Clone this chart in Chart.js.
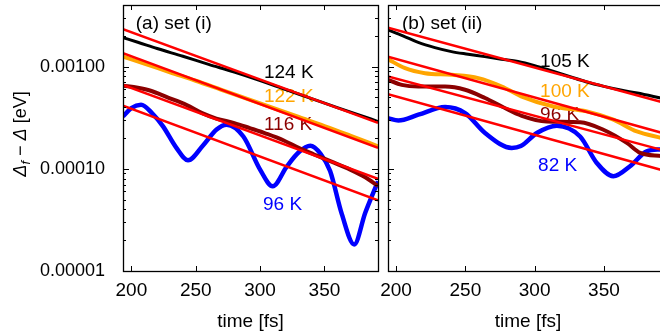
<!DOCTYPE html>
<html>
<head>
<meta charset="utf-8">
<script src="https://cdn.jsdelivr.net/npm/chart.js@4.4.0/dist/chart.umd.min.js"></script>
<style>
html, body { margin: 0; padding: 0; background: #fff; overflow: hidden; }
#wrap { position: relative; width: 660px; height: 335px; overflow: hidden; }
#chartA { position: absolute; left: 0; top: 0; }
#chartB { position: absolute; left: 360px; top: 0; }
</style>
</head>
<body>
<div id="wrap">
  <canvas id="chartA" width="383" height="335"></canvas>
  <canvas id="chartB" width="313" height="335"></canvas>
</div>
<script>
// ---- data, panel (a) set (i) ----
const tA124 = [193.5, 205, 220, 240, 260, 280, 300, 320, 340, 360, 375, 391.6];
const vA124 = [0.00192, 0.00173, 0.00150, 0.00126, 0.00105, 0.000881, 0.000728, 0.000594, 0.000486, 0.000397, 0.000343, 0.000290];
const tA122 = [193.5, 210, 230, 250, 270, 290, 310, 330, 350, 370, 391.6];
const vA122 = [0.00125, 0.00107, 0.000879, 0.000726, 0.000592, 0.000483, 0.000394, 0.000321, 0.000262, 0.000211, 0.000166];
const tA116 = [193.5, 205, 215, 228, 243, 255, 266, 280, 292, 305, 318, 330, 342, 355, 370, 382, 391.6];
const vA116 = [0.00065, 0.00062, 0.00058, 0.00050, 0.00042, 0.00035, 0.00031, 0.00028, 0.00025, 0.00022, 0.00019, 0.00016, 0.000138, 0.000118, 0.0000982, 0.000082, 0.000068];
const tA96 = [193.5, 200, 207.5, 216, 224.6, 235, 244, 255.8, 266.2, 274, 287, 300, 309.8, 320.7, 330, 339, 347, 354.4, 363.5, 373.1, 381.7, 391.6];
const vA96 = [0.000325, 0.000393, 0.000423, 0.000351, 0.00026, 0.00016, 0.000121, 0.00017, 0.000242, 0.00027, 0.000207, 0.0000982, 0.0000675, 0.000105, 0.000145, 0.000168, 0.00014, 0.000095, 0.000036, 0.0000182, 0.0000372, 0.0000755];
// exponential fits (straight on the log axis): start / end value
const tFitA = [193.5, 391.6];
const fitA124 = [0.00232, 0.000281];
const fitA122 = [0.00135, 0.000160];
const fitA116 = [0.000662, 0.0000796];
const fitA96 = [0.000414, 0.0000490];

// ---- data, panel (b) set (ii) ----
const tB105 = [194.2, 205, 216, 228, 240, 252, 264, 276, 288, 300, 312, 325, 337, 350, 362, 374, 391.6];
const vB105 = [0.00228, 0.00200, 0.00172, 0.00153, 0.00140, 0.00132, 0.00125, 0.00118, 0.00112, 0.00102, 0.00091, 0.00080, 0.00071, 0.00064, 0.00059, 0.00055, 0.00049];
const tB100 = [194.2, 206.5, 220.9, 240.2, 259.4, 276.3, 290.7, 313.5, 337.6, 356.8, 373.7, 391.6];
const vB100 = [0.00118, 0.000964, 0.000861, 0.00083, 0.000771, 0.000638, 0.000509, 0.000407, 0.000364, 0.000302, 0.000232, 0.0002];
const tB96 = [194.2, 204.1, 216.1, 235.4, 249.8, 264.2, 276.3, 290.7, 308.7, 332.8, 349.6, 366.5, 376.2, 391.6];
const vB96 = [0.000742, 0.000662, 0.000638, 0.000638, 0.000593, 0.000492, 0.000407, 0.00033, 0.00029, 0.000285, 0.000241, 0.000179, 0.000143, 0.000133];
const tB82 = [194.2, 201.7, 216.1, 235.4, 249.8, 264.2, 283.5, 290, 301.6, 316, 332.8, 344.8, 356.8, 368.8, 380.9, 391.6];
const vB82 = [0.000313, 0.000297, 0.000338, 0.000402, 0.000351, 0.000224, 0.00016, 0.000167, 0.000224, 0.000264, 0.000207, 0.000114, 0.0000845, 0.000106, 0.000148, 0.000155];
const tFitB = [194.2, 391.6];
const fitB105 = [0.00240, 0.00045];
const fitB100 = [0.00125, 0.000225];
const fitB96 = [0.0008, 0.000153];
const fitB82 = [0.000537, 0.0000973];

// ---- axes ----
const xTickValues = [200, 250, 300, 350];
const yLabelValues = [0.00001, 0.0001, 0.001];
const yMinorSteps = [2, 3, 4, 5, 6, 7, 8, 9];

const FONT = '"Liberation Sans", Arial, Helvetica, sans-serif';
const FIT_RED = '#ff0000';

function pts(t, v) { return t.map((x, i) => ({ x: x, y: v[i] })); }

function curve(t, v, color, w) {
    return { data: pts(t, v), borderColor: color, borderWidth: w, pointRadius: 0,
             cubicInterpolationMode: 'monotone', order: 2 };
}
function fit(t, v) {
    return { data: pts(t, v), borderColor: FIT_RED, borderWidth: 2.5, pointRadius: 0, order: 1 };
}

// frame + inward ticks on all four sides, gnuplot style
const framePlugin = {
    id: 'frame',
    afterDatasetsDraw(chart) {
        const { ctx, chartArea: a, scales: { x, y } } = chart;
        ctx.save();
        ctx.strokeStyle = '#000';
        ctx.lineWidth = 1;
        ctx.beginPath();
        xTickValues.forEach(v => {
            const px = Math.round(x.getPixelForValue(v)) + 0.5;
            ctx.moveTo(px, a.bottom); ctx.lineTo(px, a.bottom - 5);
            ctx.moveTo(px, a.top); ctx.lineTo(px, a.top + 5);
        });
        y.ticks.forEach(t => {
            const py = Math.round(y.getPixelForValue(t.value)) + 0.5;
            const len = yLabelValues.includes(t.value) ? 6 : 3;
            ctx.moveTo(a.left, py); ctx.lineTo(a.left + len, py);
            ctx.moveTo(a.right, py); ctx.lineTo(a.right - len, py);
        });
        ctx.stroke();
        ctx.lineWidth = 1.3;
        ctx.strokeRect(Math.round(a.left) + 0.5, Math.round(a.top) + 0.5,
                       Math.round(a.right - a.left), Math.round(a.bottom - a.top));
        ctx.restore();
    }
};

// text drawn in the plot (below the curves, like the original)
const labelPlugin = {
    id: 'labels',
    beforeDatasetsDraw(chart, args, opts) {
        const { ctx, scales: { x, y } } = chart;
        ctx.save();
        ctx.textBaseline = 'middle';
        ctx.textAlign = 'left';
        opts.items.forEach(it => {
            ctx.font = '19px ' + FONT;
            ctx.fillStyle = it.color;
            ctx.fillText(it.text, x.getPixelForValue(it.t), y.getPixelForValue(it.v));
        });
        ctx.restore();
    }
};

// rotated y title with italic Delta and subscript f
const yTitlePlugin = {
    id: 'ytitle',
    afterDraw(chart, args, opts) {
        if (!opts.show) return;
        const ctx = chart.ctx;
        const parts = [
            { s: 'Δ', f: 'italic 18px ' + FONT, dy: 0 },
            { s: 'f', f: 'italic 13px ' + FONT, dy: 5 },
            { s: ' − ', f: '18px ' + FONT, dy: 0 },
            { s: 'Δ', f: 'italic 18px ' + FONT, dy: 0 },
            { s: ' [eV]', f: '18px ' + FONT, dy: 0 }
        ];
        ctx.save();
        ctx.translate(21, 134);
        ctx.rotate(-Math.PI / 2);
        ctx.textBaseline = 'middle';
        ctx.fillStyle = '#000';
        let w = 0;
        parts.forEach(p => { ctx.font = p.f; w += ctx.measureText(p.s).width; });
        let cx = -w / 2;
        parts.forEach(p => {
            ctx.font = p.f;
            ctx.fillText(p.s, cx, p.dy);
            cx += ctx.measureText(p.s).width;
        });
        ctx.restore();
    }
};

function makePanel(id, datasets, labels, yWidth, showY, xMin, xMax) {
    new Chart(document.getElementById(id), {
        type: 'line',
        data: { datasets: datasets },
        options: {
            responsive: false,
            animation: false,
            devicePixelRatio: 1,
            layout: { padding: { left: 0, right: 5, top: 5, bottom: 0 } },
            scales: {
                x: {
                    type: 'linear', min: xMin, max: xMax,
                    afterBuildTicks: s => { s.ticks = xTickValues.map(v => ({ value: v })); },
                    afterFit: s => { s.height = 64; s.paddingLeft = 0; s.paddingRight = 0; },
                    grid: { display: false, drawTicks: false },
                    border: { display: false },
                    ticks: { color: '#000', font: { family: FONT, size: 19 }, padding: 8, maxRotation: 0, autoSkip: false },
                    title: { display: true, text: 'time [fs]', color: '#000', font: { family: FONT, size: 19 }, padding: { top: 0, bottom: 2 } }
                },
                y: {
                    type: 'logarithmic', min: 0.00001, max: 0.004,
                    afterBuildTicks: s => {
                        const ticks = [];
                        yLabelValues.forEach(d => {
                            ticks.push({ value: d });
                            yMinorSteps.forEach(m => { if (m * d <= 0.004 + 1e-12) ticks.push({ value: m * d }); });
                        });
                        s.ticks = ticks;
                    },
                    afterFit: s => { s.width = yWidth; s.paddingTop = 0; s.paddingBottom = 0; },
                    grid: { display: false, drawTicks: false },
                    border: { display: false },
                    ticks: {
                        display: showY, autoSkip: false, color: '#000', padding: 18,
                        font: { family: FONT, size: 18 },
                        callback: v => yLabelValues.includes(v) ? v.toFixed(5) : ''
                    }
                }
            },
            plugins: {
                legend: { display: false },
                tooltip: { enabled: false },
                labels: { items: labels },
                ytitle: { show: showY }
            }
        },
        plugins: [labelPlugin, framePlugin, yTitlePlugin]
    });
}

makePanel('chartA', [
    curve(tA124, vA124, '#000000', 3),
    curve(tA122, vA122, '#ffa500', 4),
    curve(tA116, vA116, '#8b0000', 4),
    curve(tA96, vA96, '#0000ff', 4.5),
    fit(tFitA, fitA124), fit(tFitA, fitA122), fit(tFitA, fitA116), fit(tFitA, fitA96)
], [
    { text: '(a) set (i)', t: 203.4, v: 0.00264, color: '#000' },
    { text: '124 K', t: 303, v: 0.000867, color: '#000' },
    { text: '122 K', t: 303, v: 0.000506, color: '#ffa500' },
    { text: '116 K', t: 303, v: 0.00027, color: '#8b0000' },
    { text: '96 K', t: 302.3, v: 0.0000448, color: '#0000ff' }
], 123, true, 193.5, 391.6);

makePanel('chartB', [
    curve(tB105, vB105, '#000000', 3),
    curve(tB100, vB100, '#ffa500', 4),
    curve(tB96, vB96, '#8b0000', 4),
    curve(tB82, vB82, '#0000ff', 4.5),
    fit(tFitB, fitB105), fit(tFitB, fitB100), fit(tFitB, fitB96), fit(tFitB, fitB82)
], [
    { text: '(b) set (ii)', t: 204.3, v: 0.00264, color: '#000' },
    { text: '105 K', t: 303.9, v: 0.00111, color: '#000' },
    { text: '100 K', t: 303.9, v: 0.000567, color: '#ffa500' },
    { text: '96 K', t: 303.9, v: 0.000338, color: '#8b0000' },
    { text: '82 K', t: 302.5, v: 0.000107, color: '#0000ff' }
], 28, false, 194.2, 396.2);
</script>
</body>
</html>
